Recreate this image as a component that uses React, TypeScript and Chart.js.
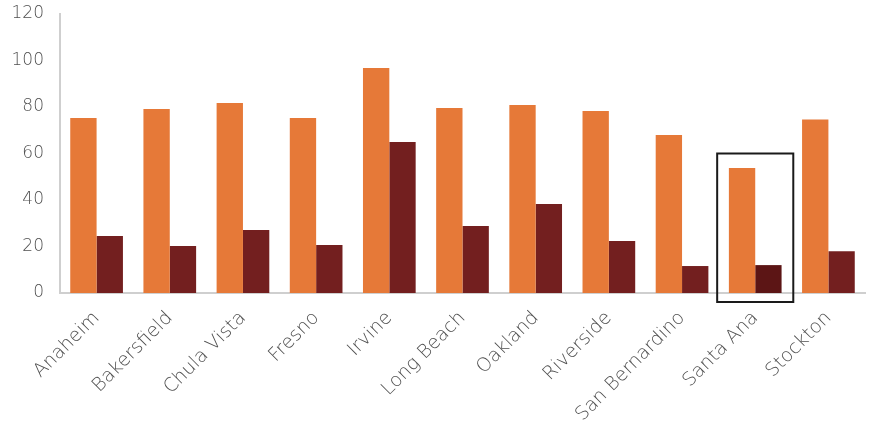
import React, { useEffect, useRef } from "react";
import { Chart, registerables } from "chart.js";

Chart.register(...registerables);

const cities = [
  "Anaheim",
  "Bakersfield",
  "Chula Vista",
  "Fresno",
  "Irvine",
  "Long Beach",
  "Oakland",
  "Riverside",
  "San Bernardino",
  "Santa Ana",
  "Stockton",
];
const seriesA = [75.3, 79.1, 81.7, 75.3, 96.8, 79.6, 80.9, 78.3, 68.0, 53.8, 74.6];
const seriesB = [24.5, 20.2, 27.1, 20.6, 65.0, 28.8, 38.3, 22.4, 11.6, 12.0, 18.0];
const yTicks = [0, 20, 40, 60, 80, 100, 120];
const highlightCity = "Santa Ana";
const highlightTop = 60;

const ORANGE = "#E67938";
const MAROON = "#731F1F";
const MAROON_DARK = "#5C1515";
const FONT = "'DejaVu Sans ExtraLight', 'DejaVu Sans Light', 'DejaVu Sans', sans-serif";

// Outline box drawn around the highlighted city's pair of bars
const highlightBox = {
  id: "highlightBox",
  afterDatasetsDraw(chart: any) {
    const idx = cities.indexOf(highlightCity);
    if (idx < 0) return;
    const x = chart.scales.x;
    const y = chart.scales.y;
    const cw = x.width / cities.length;
    const cx = x.getPixelForValue(idx);
    const left = cx - cw * 0.52;
    const right = cx + cw * 0.52;
    const top = y.getPixelForValue(highlightTop);
    const bottom = y.getPixelForValue(0) + 9;
    const ctx = chart.ctx;
    ctx.save();
    ctx.strokeStyle = "#1a1a1a";
    ctx.lineWidth = 2;
    ctx.strokeRect(left, top, right - left, bottom - top);
    ctx.restore();
  },
};

export default function App() {
  const ref = useRef<HTMLCanvasElement | null>(null);

  useEffect(() => {
    if (!ref.current) return;
    const chart = new Chart(ref.current, {
      type: "bar",
      data: {
        labels: cities,
        datasets: [
          {
            data: seriesA,
            backgroundColor: ORANGE,
            categoryPercentage: 0.72,
            barPercentage: 1,
          },
          {
            data: seriesB,
            backgroundColor: cities.map((c) => (c === highlightCity ? MAROON_DARK : MAROON)),
            categoryPercentage: 0.72,
            barPercentage: 1,
          },
        ],
      },
      options: {
        animation: false,
        responsive: true,
        maintainAspectRatio: false,
        layout: { padding: { top: 14, right: 7, left: 0, bottom: 0 } },
        plugins: {
          legend: { display: false },
          tooltip: { enabled: false },
        },
        scales: {
          x: {
            grid: { display: false, drawTicks: false },
            border: { display: true, color: "#cfcfcf", width: 2 },
            afterFit: (scale: any) => {
              scale.height = 134;
            },
            ticks: {
              minRotation: 45,
              maxRotation: 45,
              autoSkip: false,
              padding: 14,
              color: "#505050",
              font: { family: FONT, size: 19 },
            },
          },
          y: {
            min: 0,
            max: 120,
            grid: { display: false, drawTicks: false },
            border: { display: true, color: "#cfcfcf", width: 2 },
            afterBuildTicks: (scale: any) => {
              scale.ticks = yTicks.map((v) => ({ value: v }));
            },
            afterFit: (scale: any) => {
              scale.width = 60;
              scale.paddingTop = 0;
              scale.paddingBottom = 0;
            },
            ticks: {
              padding: 16,
              color: "#505050",
              font: { family: FONT, size: 17 },
            },
          },
        },
      },
      plugins: [highlightBox],
    });
    return () => chart.destroy();
  }, []);

  return (
    <div style={{ position: "fixed", left: 0, top: 0, width: 872, height: 427, background: "#fff" }}>
      <canvas ref={ref} />
    </div>
  );
}
